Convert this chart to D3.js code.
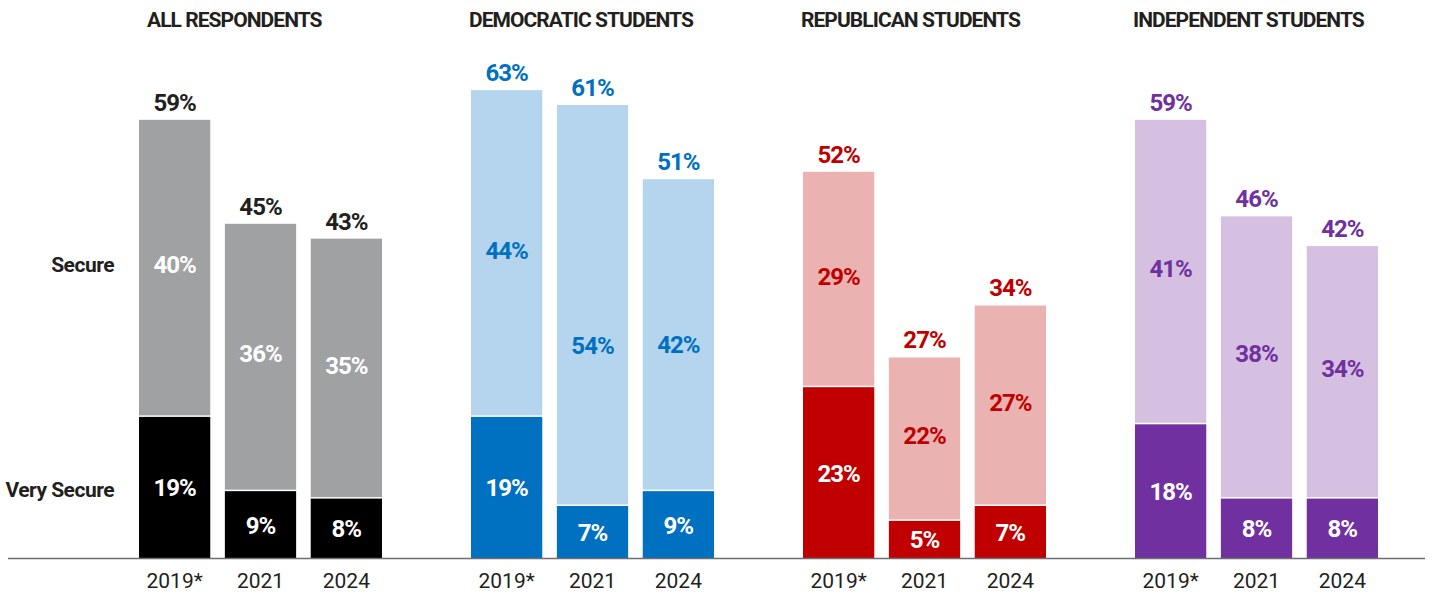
<!DOCTYPE html>
<html>
<head>
<meta charset="utf-8">
<script src="https://cdn.jsdelivr.net/npm/d3@7"></script>
<style>
  html, body { margin: 0; padding: 0; background: #fff; }
  svg { display: block; }
  text { font-family: Roboto, "Noto Sans", sans-serif; }
</style>
</head>
<body>
<svg id="chart" width="1432" height="594"></svg>
<script>
// Survey groups and years
const groups = ["ALL RESPONDENTS", "DEMOCRATIC STUDENTS", "REPUBLICAN STUDENTS", "INDEPENDENT STUDENTS"];
const years = ["2019*", "2021", "2024"];

// Share answering "Very Secure" (bottom segment), per group, per year
const verySecure = [
  [19, 9, 8],
  [19, 7, 9],
  [23, 5, 7],
  [18, 8, 8]
];
// Share answering "Secure" (upper segment)
const secure = [
  [40, 36, 35],
  [44, 54, 42],
  [29, 22, 27],
  [41, 38, 34]
];
// Combined share printed above each bar
const totals = [
  [59, 45, 43],
  [63, 61, 51],
  [52, 27, 34],
  [59, 46, 42]
];

const rowLabels = ["Secure", "Very Secure"];

// Palette per group: dark segment, light segment, accent text
const darkColors = ["#000000", "#0070c0", "#c00000", "#7030a0"];
const lightColors = ["#a0a1a3", "#b5d5ee", "#eab3b2", "#d5c0e2"];
const accentColors = ["#231f20", "#0070c0", "#c00000", "#7030a0"];
const secureTextColors = ["#ffffff", "#0070c0", "#c00000", "#7030a0"];

// a couple of "Secure" labels sit lower than their segment's middle (px)
const secureLabelNudge = { "1-1": 44, "1-2": 13 };

const svg = d3.select("#chart");

const baseline = 558;
const y = d3.scaleLinear().domain([0, 75]).range([baseline, 1]);

const groupX = d3.scalePoint().domain(groups).range([139, 1135]);
const barX = d3.scaleBand().domain(years).range([0, 243]).paddingInner(0.17);

const fmt = v => v + "%";

groups.forEach((g, gi) => {
  const gx = groupX(g);
  const G = svg.append("g").attr("transform", `translate(${gx},0)`);

  // group title
  G.append("text")
    .attr("x", gi === 0 ? 8 : -2)
    .attr("y", 27)
    .attr("font-size", 21)
    .attr("font-weight", 700)
    .attr("letter-spacing", -0.95)
    .attr("fill", "#231f20")
    .text(g);

  years.forEach((yr, yi) => {
    const x0 = barX(yr);
    const w = barX.bandwidth();
    const cx = x0 + w / 2;
    const vs = verySecure[gi][yi];
    const s = secure[gi][yi];
    const t = totals[gi][yi];

    // lower segment
    G.append("rect")
      .attr("x", x0).attr("width", w)
      .attr("y", y(vs)).attr("height", y(0) - y(vs))
      .attr("fill", darkColors[gi]);
    // upper segment, with a thin white gap above the lower one
    G.append("rect")
      .attr("x", x0).attr("width", w)
      .attr("y", y(vs + s)).attr("height", y(vs) - y(vs + s) - 1.5)
      .attr("fill", lightColors[gi]);

    const labelStyle = sel => sel
      .attr("text-anchor", "middle")
      .attr("font-size", 24)
      .attr("font-weight", 700)
      .attr("letter-spacing", -1);

    G.append("text").call(labelStyle)
      .attr("x", cx).attr("y", (y(0) + y(vs)) / 2 + 9)
      .attr("fill", "#ffffff")
      .text(fmt(vs));

    G.append("text").call(labelStyle)
      .attr("x", cx)
      .attr("y", (y(vs) + y(vs + s)) / 2 + 5 + (secureLabelNudge[gi + "-" + yi] || 0))
      .attr("fill", secureTextColors[gi])
      .text(fmt(s));

    G.append("text").call(labelStyle)
      .attr("x", cx).attr("y", y(t) - 9)
      .attr("fill", accentColors[gi])
      .text(fmt(t));

    // year tick label
    G.append("text")
      .attr("x", cx).attr("y", 588)
      .attr("text-anchor", "middle")
      .attr("font-size", 21)
      .attr("fill", "#231f20")
      .text(yr);
  });
});

// row labels, aligned with the first bar's segments
const firstVS = verySecure[0][0], firstS = secure[0][0];
const rowY = [(y(firstVS) + y(firstVS + firstS)) / 2 + 4, (y(0) + y(firstVS)) / 2 + 10];
rowLabels.forEach((lbl, i) => {
  svg.append("text")
    .attr("x", 114).attr("y", rowY[i])
    .attr("text-anchor", "end")
    .attr("font-size", 21)
    .attr("font-weight", 700)
    .attr("letter-spacing", -0.5)
    .attr("fill", "#231f20")
    .text(lbl);
});

// baseline
svg.append("line")
  .attr("x1", 8).attr("x2", 1425)
  .attr("y1", baseline + 0.5).attr("y2", baseline + 0.5)
  .attr("stroke", "#6d6e71")
  .attr("stroke-width", 1.5);
</script>
</body>
</html>
